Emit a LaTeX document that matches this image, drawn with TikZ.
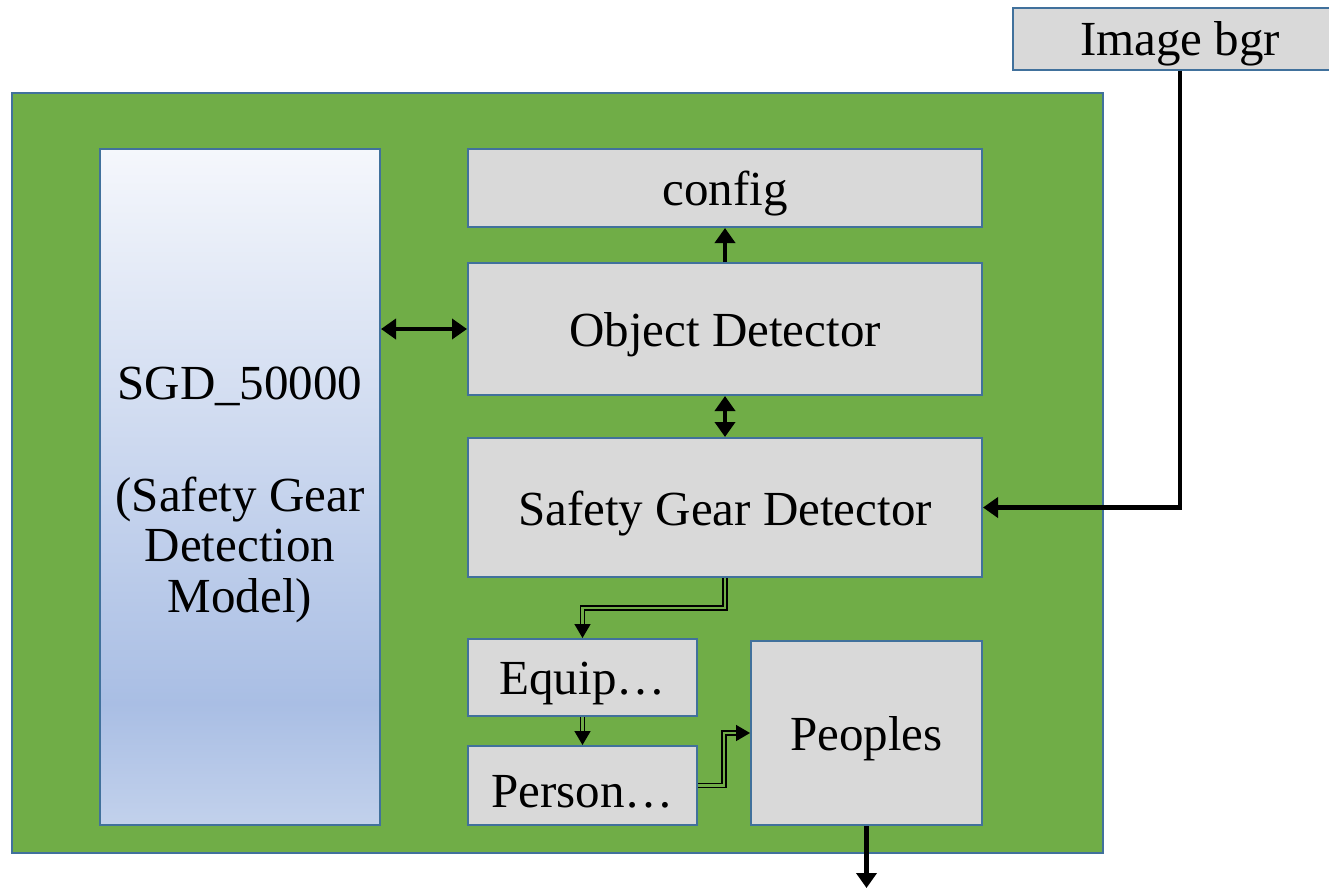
\documentclass[tikz,border=0pt]{standalone}
\usepackage{fontspec}
\setmainfont{Liberation Serif}
\usetikzlibrary{arrows.meta}
\definecolor{grn}{HTML}{70AD47}
\definecolor{bord}{HTML}{41719C}
\definecolor{boxg}{HTML}{D9D9D9}
\newcommand\lowtext[2][6pt]{\raisebox{-#1}[\height][\depth]{#2}}
\pgfdeclareverticalshading{sgdshade}{100bp}{rgb(0bp)=(0.761,0.820,0.925); rgb(25bp)=(0.761,0.820,0.925); rgb(34bp)=(0.663,0.745,0.894); rgb(75bp)=(0.961,0.969,0.988); rgb(100bp)=(0.961,0.969,0.988)}
\tikzset{
  blk/.style={draw=bord, line width=2pt, fill=boxg, inner sep=0pt, align=center, font=\fontsize{49}{50.5}\selectfont},
  thickarrow/.style={line width=4.5pt, -{Triangle[length=15pt,width=20pt]}},
  thickboth/.style={line width=4.5pt, {Triangle[length=15pt,width=20pt]}-{Triangle[length=15pt,width=20pt]}},
  dblarrow/.style={line width=1.6pt, double=grn, double distance=2.6pt, -{Triangle[length=14pt,width=16pt]}}
}
\begin{document}
\begin{tikzpicture}[x=1pt,y=-1pt]
\useasboundingbox (0,0) rectangle (1329,889);
\node[draw=bord, line width=2pt, fill=grn, minimum width=1091pt, minimum height=760pt, inner sep=0pt] (frame) at (557.5,473) {};
\node[blk, minimum width=334pt, minimum height=62pt] (img) at (1180,38.5) {\lowtext[5pt]{Image bgr}};
\node[draw=bord, line width=2pt, shading=sgdshade, inner sep=0pt, minimum width=280pt, minimum height=676pt] (sgd) at (240,487) {};
\node[inner sep=0pt, align=center, font=\fontsize{49}{50.5}\selectfont] (sgdtxt) at (240,495) {SGD\_50000\\[61pt](Safety Gear\\Detection\\Model)};
\node[blk, minimum width=514pt, minimum height=78pt] (cfg) at (725,188) {\lowtext{config}};
\node[blk, minimum width=514pt, minimum height=132pt] (od) at (725,329) {\lowtext{Object Detector}};
\node[blk, minimum width=514pt, minimum height=139pt] (sg) at (725,507.5) {\lowtext{Safety Gear Detector}};
\node[blk, minimum width=229pt, minimum height=77pt] (eq) at (582.5,677.5) {\lowtext{Equip…}};
\node[blk, minimum width=229pt, minimum height=79pt] (pe) at (582.5,785.5) {\lowtext{Person…}};
\node[blk, minimum width=231pt, minimum height=184pt] (pp) at (866.5,733) {\lowtext{Peoples}};
\coordinate (out) at (866.5,888);
\draw[thickboth] (sgd.east |- od.west) -- (od.west);
\draw[thickarrow] (od.north) -- (cfg.south);
\draw[thickboth] (od.south) -- (sg.north);
\draw[line width=4.5pt, -{Triangle[length=15pt,width=20pt]}] (img.south) -- (img.south |- sg.east) -- (sg.east);
\draw[thickarrow] (pp.south) -- (out);
\draw[dblarrow] (sg.south) -- ([yshift=-30pt]sg.south) -| (eq.north);
\draw[dblarrow] (eq.south) -- (pe.north);
\draw[dblarrow] (pe.east) -- ([xshift=26pt]pe.east) |- (pp.west);
\end{tikzpicture}
\end{document}
